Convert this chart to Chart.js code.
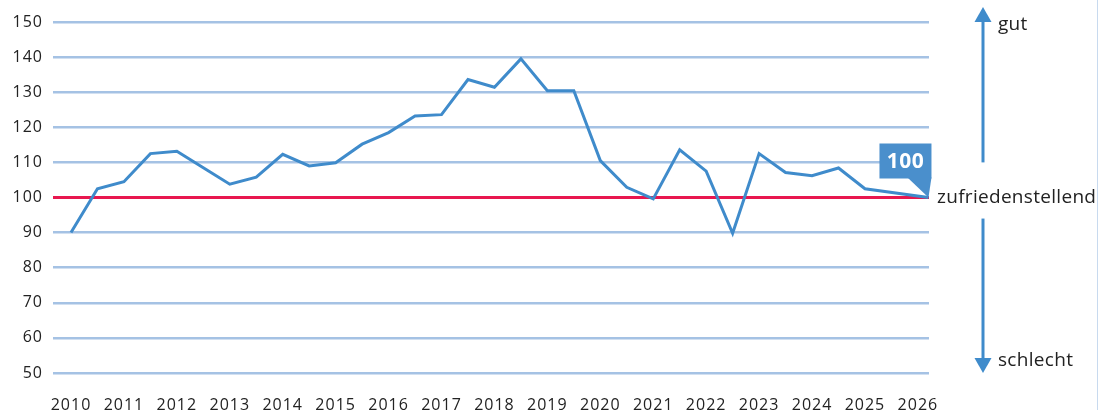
<!DOCTYPE html>
<html lang="de">
<head>
<meta charset="utf-8">
<style>
  html, body { margin: 0; padding: 0; background: #fff; }
  #wrap { position: relative; width: 1115px; height: 410px; }
</style>
<script src="https://cdn.jsdelivr.net/npm/chart.js@4/dist/chart.umd.min.js"></script>
</head>
<body>
<div id="wrap"><canvas id="indexChart"></canvas></div>
<script>
/* Index-Verlauf 2010–2026 */

const LINE_BLUE = '#3f8bcb';
const GRID_BLUE = '#a5c2e4';
const RED       = '#e8174f';
const INK       = '#222222';
const FONT      = '"Open Sans", "DejaVu Sans", sans-serif';

// Halbjahreswerte; der letzte Punkt ist der Zielwert
const PERIODS = [
  2010.0, 2010.5, 2011.0, 2011.5, 2012.0, 2012.5, 2013.0, 2013.5,
  2014.0, 2014.5, 2015.0, 2015.5, 2016.0, 2016.5, 2017.0, 2017.5,
  2018.0, 2018.5, 2019.0, 2019.5, 2020.0, 2020.5, 2021.0, 2021.5,
  2022.0, 2022.5, 2023.0, 2023.5, 2024.0, 2024.5, 2025.0, 2026.2
];
const VALUES = [
  90.0, 102.5, 104.5, 112.5, 113.2, 108.5, 103.8, 105.8,
  112.3, 109.0, 109.9, 115.2, 118.5, 123.2, 123.6, 133.6,
  131.4, 139.5, 130.4, 130.4, 110.5, 102.9, 99.6, 113.6,
  107.5, 89.8, 112.5, 107.1, 106.2, 108.4, 102.5, 100
];
const YEAR_TICKS = [2010, 2011, 2012, 2013, 2014, 2015, 2016, 2017, 2018,
                    2019, 2020, 2021, 2022, 2023, 2024, 2025, 2026];
const Y_TICKS = [50, 60, 70, 80, 90, 100, 110, 120, 130, 140, 150];
const TARGET = 100;
const LABEL_GOOD = 'gut';
const LABEL_OK   = 'zufriedenstellend';
const LABEL_BAD  = 'schlecht';

/* ── etwas breitere Schrift für die Achsen ─────────────────── */
const spacing = {
  id: 'spacing',
  beforeDraw(chart) { chart.ctx.letterSpacing = '1px'; }
};

/* ── Referenzlinie bei 100 ─────────────────────────────────── */
const targetLine = {
  id: 'targetLine',
  beforeDatasetsDraw(chart) {
    const { ctx, chartArea, scales } = chart;
    const y = scales.y.getPixelForValue(TARGET);
    ctx.save();
    ctx.strokeStyle = RED;
    ctx.lineWidth = 3;
    ctx.beginPath();
    ctx.moveTo(chartArea.left, y);
    ctx.lineTo(chartArea.right, y);
    ctx.stroke();
    ctx.restore();
  }
};

/* ── Pfeile, Beschriftung rechts, Sprechblase ──────────────── */
const sideNotes = {
  id: 'sideNotes',
  afterDraw(chart) {
    const { ctx, chartArea, scales } = chart;
    const ys = scales.y;
    const ax = chartArea.right + 54;

    function arrow(y0, y1) {
      const dir = y1 < y0 ? -1 : 1;
      const head = 15;
      ctx.strokeStyle = LINE_BLUE;
      ctx.fillStyle = LINE_BLUE;
      ctx.lineWidth = 3;
      ctx.beginPath();
      ctx.moveTo(ax, y0);
      ctx.lineTo(ax, y1 - dir * head);
      ctx.stroke();
      ctx.beginPath();
      ctx.moveTo(ax, y1);
      ctx.lineTo(ax - 8.5, y1 - dir * head);
      ctx.lineTo(ax + 8.5, y1 - dir * head);
      ctx.closePath();
      ctx.fill();
    }

    ctx.save();
    ctx.letterSpacing = '0px';
    arrow(ys.getPixelForValue(110), chartArea.top - 15);
    arrow(ys.getPixelForValue(94), ys.getPixelForValue(50));

    ctx.fillStyle = INK;
    ctx.font = '19px ' + FONT;
    ctx.letterSpacing = '0.3px';
    ctx.textBaseline = 'middle';
    ctx.textAlign = 'left';
    ctx.fillText(LABEL_GOOD, ax + 15, chartArea.top + 3);
    ctx.fillText(LABEL_BAD, ax + 15, ys.getPixelForValue(50) - 12);
    ctx.fillText(LABEL_OK, chartArea.right + 8, ys.getPixelForValue(TARGET));

    // dünne Randlinie rechts
    ctx.strokeStyle = '#c8daef';
    ctx.lineWidth = 1;
    ctx.beginPath();
    ctx.moveTo(1097.5, 0);
    ctx.lineTo(1097.5, chart.height);
    ctx.stroke();

    // Sprechblase am letzten Punkt
    const last = VALUES.length - 1;
    const px = scales.x.getPixelForValue(PERIODS[last]);
    const py = ys.getPixelForValue(VALUES[last]);
    const right = px + 3, left = right - 52;
    const bottom = py - 19, top = bottom - 35;
    ctx.fillStyle = '#4a8fcc';
    ctx.fillRect(left, top, right - left, bottom - top);
    ctx.beginPath();
    ctx.moveTo(right - 24, bottom - 1);
    ctx.lineTo(right, bottom - 1);
    ctx.lineTo(px, py);
    ctx.closePath();
    ctx.fill();
    ctx.fillStyle = '#ffffff';
    ctx.font = 'bold 21px ' + FONT;
    ctx.letterSpacing = '0.5px';
    ctx.textAlign = 'center';
    ctx.fillText(String(VALUES[last]), (left + right) / 2, (top + bottom) / 2 + 1);
    ctx.restore();
  }
};

new Chart(document.getElementById('indexChart'), {
  type: 'line',
  data: {
    datasets: [{
      data: PERIODS.map((p, i) => ({ x: p, y: VALUES[i] })),
      borderColor: LINE_BLUE,
      borderWidth: 3,
      pointRadius: 0,
      tension: 0,
      fill: false
    }]
  },
  options: {
    responsive: true,
    maintainAspectRatio: false,
    animation: false,
    layout: { padding: { top: 22, right: 186, left: 0, bottom: 0 } },
    plugins: { legend: { display: false }, tooltip: { enabled: false } },
    scales: {
      x: {
        type: 'linear',
        min: 2009.66,
        max: 2026.21,
        afterBuildTicks: (axis) => { axis.ticks = YEAR_TICKS.map(v => ({ value: v })); },
        afterFit: (s) => { s.height = 37; },
        grid: { display: false },
        border: { display: false },
        ticks: {
          color: INK, padding: 15, maxRotation: 0, autoSkip: false,
          font: { family: FONT, size: 16 },
          callback: (v) => String(v)
        }
      },
      y: {
        min: 50,
        max: 150,
        afterBuildTicks: (axis) => { axis.ticks = Y_TICKS.map(v => ({ value: v })); },
        afterFit: (s) => { s.width = 53; },
        grid: { color: GRID_BLUE, lineWidth: 2.5, drawTicks: false },
        border: { display: false },
        ticks: {
          color: INK, padding: 10,
          font: { family: FONT, size: 16 },
          callback: (v) => String(v)
        }
      }
    }
  },
  plugins: [spacing, targetLine, sideNotes]
});
</script>
</body>
</html>
